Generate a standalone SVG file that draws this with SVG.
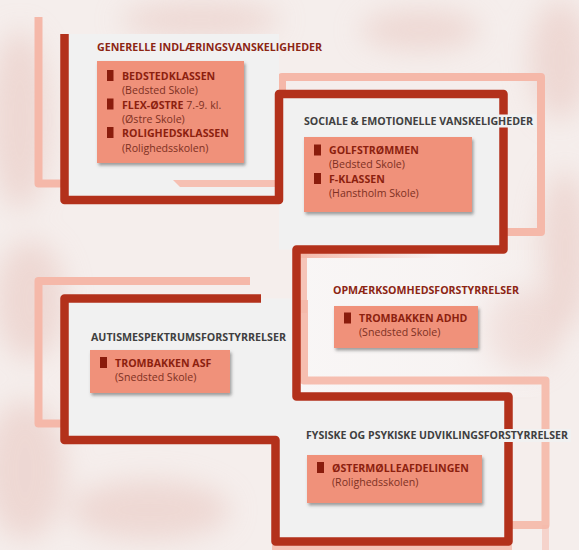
<svg xmlns="http://www.w3.org/2000/svg" width="579" height="550" viewBox="0 0 579 550">
<style>
.frame{fill:none;stroke:#b3311b;stroke-width:8.5;stroke-linejoin:round;stroke-linecap:butt}
.pink{fill:none;stroke:#f5b8a9;stroke-width:8;stroke-linejoin:round;stroke-linecap:butt}
.panel{fill:#f1f1f1}
.box{fill:#f0917a;filter:url(#sh)}
.bul{fill:#8a1c0c}
.hd{font-family:"Open Sans","Liberation Sans",sans-serif;font-weight:700;font-size:10px}
.hdr{fill:#8c2514}
.hdg{fill:#404040}
.t{font-family:"Open Sans","Liberation Sans",sans-serif;font-size:10.6px;fill:#7e3022}
.b{font-weight:700;fill:#8c1f0f}
</style>
<defs>
<filter id="sh" x="-10%" y="-10%" width="125%" height="135%">
<feDropShadow dx="1.5" dy="2.5" stdDeviation="1.5" flood-color="#555" flood-opacity="0.55"/>
</filter>
<filter id="blur" x="-50%" y="-50%" width="200%" height="200%">
<feGaussianBlur stdDeviation="14"/>
</filter>
<linearGradient id="fade" x1="0" y1="0" x2="1" y2="0">
<stop offset="0" stop-color="#f5b8a9"/>
<stop offset="1" stop-color="#f5b8a9" stop-opacity="0"/>
</linearGradient>
<linearGradient id="fadeW" x1="0" y1="0" x2="1" y2="0">
<stop offset="0" stop-color="#f9f7f7" stop-opacity="0.9"/>
<stop offset="0.6" stop-color="#f9f7f7" stop-opacity="0.6"/>
<stop offset="1" stop-color="#f9f7f7" stop-opacity="0"/>
</linearGradient>
</defs>
<g id="background">
<rect width="579" height="550" fill="#f5eeec"/>
<g filter="url(#blur)" fill="#e8c6bf" opacity="0.55">
<ellipse cx="20" cy="120" rx="30" ry="90"/>
<ellipse cx="30" cy="300" rx="35" ry="60"/>
<ellipse cx="25" cy="470" rx="40" ry="70"/>
<ellipse cx="560" cy="60" rx="30" ry="60"/>
<ellipse cx="565" cy="250" rx="25" ry="80"/>
<ellipse cx="520" cy="330" rx="40" ry="40"/>
<ellipse cx="200" cy="20" rx="80" ry="18"/>
<ellipse cx="420" cy="30" rx="60" ry="20"/>
<ellipse cx="150" cy="510" rx="80" ry="30"/>
</g>
</g>
<g id="decor">
<path class="pink" d="M38.5,17 V183.5 H283"/>
<path class="pink" d="M282,200 V77 H541 V232 H400"/>
<path class="pink" d="M250,281 H38.5 V423.5 H80"/>
<rect x="296" y="250" width="260" height="147" fill="url(#fadeW)"/>
<path class="pink" d="M304,300 V380.5 H545.5 V525 H490" opacity="0.9"/>
<rect x="300" y="253" width="140" height="5" fill="url(#fade)"/>
<rect x="300" y="253" width="7" height="60" fill="#f5b8a9" opacity="0.8"/>
<rect x="542" y="525" width="7" height="25" fill="#f5b8a9" opacity="0.5"/>
<rect x="272" y="545" width="240" height="5" fill="#f5b8a9" opacity="0.8"/>
<path class="panel" d="M64.5,34 V200 H279 V249.5 H503.5 V94 H279 V34 Z"/>
<path class="panel" d="M64.5,298.5 H296.5 V396.5 H508.5 V541.5 H275.5 V440 H64.5 Z"/>
<polygon points="173,180 277,180 277,187 180,187" fill="#f6c0b3"/>
</g>
<g id="connectors">
<path class="frame" d="M64.5,34 V200 H279 V94 H503.5 V249.5 H296.5 V396.5 H508.5 V541.5 H275.5 V440 H64.5 V298.5 H261"/>
</g>
<g id="node-generelle">
<text class="hd hdr" x="97" y="50.5" textLength="225" lengthAdjust="spacingAndGlyphs">GENERELLE INDLÆRINGSVANSKELIGHEDER</text>
<rect class="box" x="97" y="61" width="147" height="102"/>
<rect class="bul" x="107" y="70" width="6.5" height="11"/>
<rect class="bul" x="107" y="98.5" width="6.5" height="11"/>
<rect class="bul" x="107" y="127" width="6.5" height="11"/>
<text class="t" x="122" y="80"><tspan class="b">BEDSTEDKLASSEN</tspan></text>
<text class="t" x="122" y="94.3">(Bedsted Skole)</text>
<text class="t" x="122" y="108.6"><tspan class="b">FLEX-ØSTRE</tspan> 7.-9. kl.</text>
<text class="t" x="122" y="122.9">(Østre Skole)</text>
<text class="t" x="122" y="137.2"><tspan class="b">ROLIGHEDSKLASSEN</tspan></text>
<text class="t" x="122" y="151.5">(Rolighedsskolen)</text>
</g>
<g id="node-sociale">
<rect class="panel" x="302" y="114.5" width="234" height="13"/>
<text class="hd hdg" x="304" y="124.5" textLength="229" lengthAdjust="spacingAndGlyphs">SOCIALE &amp; EMOTIONELLE VANSKELIGHEDER</text>
<rect class="box" x="304" y="137" width="168" height="75"/>
<rect class="bul" x="314" y="144.5" width="7" height="11"/>
<rect class="bul" x="314" y="173" width="7" height="11"/>
<text class="t" x="329" y="154"><tspan class="b">GOLFSTRØMMEN</tspan></text>
<text class="t" x="329" y="168.3">(Bedsted Skole)</text>
<text class="t" x="329" y="182.6"><tspan class="b">F-KLASSEN</tspan></text>
<text class="t" x="329" y="196.9">(Hanstholm Skole)</text>
</g>
<g id="node-opmaerksomhed">
<text class="hd hdr" x="333" y="294" textLength="186" lengthAdjust="spacingAndGlyphs">OPMÆRKSOMHEDSFORSTYRRELSER</text>
<rect class="box" x="334" y="306" width="144" height="42"/>
<rect class="bul" x="344" y="312.5" width="7" height="11"/>
<text class="t" x="359" y="322"><tspan class="b">TROMBAKKEN ADHD</tspan></text>
<text class="t" x="359" y="336.3">(Snedsted Skole)</text>
</g>
<g id="node-autisme">
<text class="hd hdg" x="91" y="340.5" textLength="195" lengthAdjust="spacingAndGlyphs">AUTISMESPEKTRUMSFORSTYRRELSER</text>
<rect class="box" x="90" y="350" width="140" height="43"/>
<rect class="bul" x="100" y="357" width="7" height="11"/>
<text class="t" x="115" y="367"><tspan class="b">TROMBAKKEN ASF</tspan></text>
<text class="t" x="115" y="381.3">(Snedsted Skole)</text>
</g>
<g id="node-fysiske">
<rect class="panel" x="303" y="429" width="268" height="13"/>
<text class="hd hdg" x="306" y="439" textLength="262" lengthAdjust="spacingAndGlyphs">FYSISKE OG PSYKISKE UDVIKLINGSFORSTYRRELSER</text>
<rect class="box" x="307" y="455" width="175" height="48"/>
<rect class="bul" x="317" y="462" width="7" height="11"/>
<text class="t" x="332" y="472"><tspan class="b">ØSTERMØLLEAFDELINGEN</tspan></text>
<text class="t" x="332" y="486.3">(Rolighedsskolen)</text>
</g>
</svg>
